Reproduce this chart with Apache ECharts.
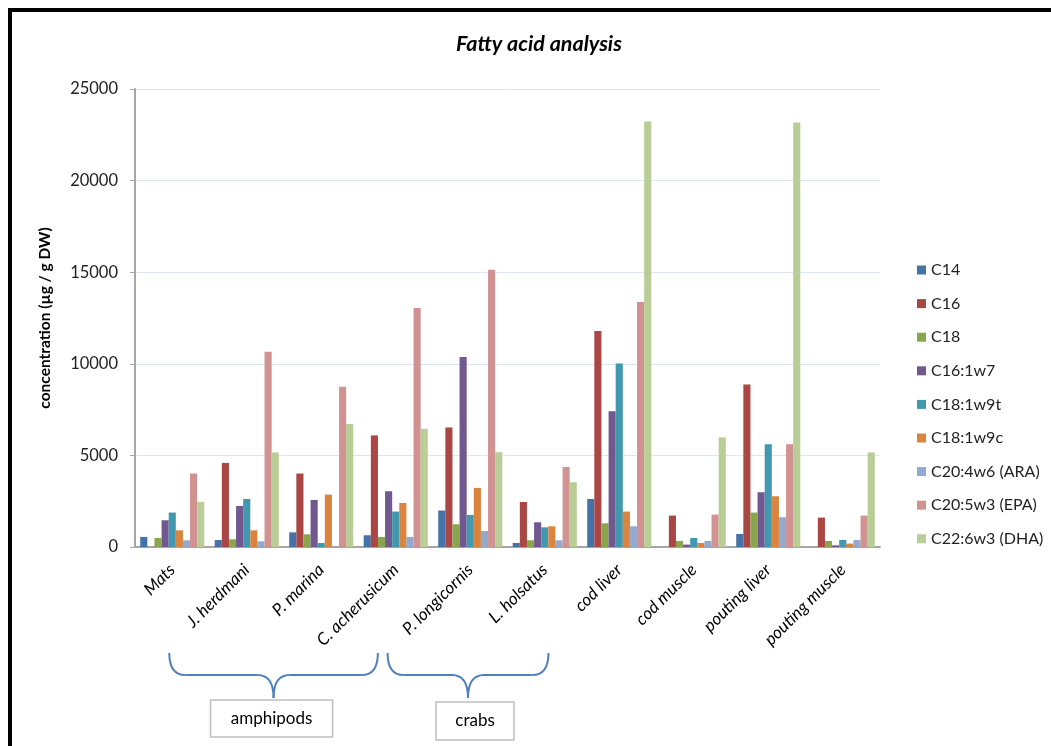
<!DOCTYPE html>
<html>
<head>
<meta charset="utf-8">
<script src="https://cdn.jsdelivr.net/npm/echarts@6/dist/echarts.min.js"></script>
<style>html,body{margin:0;padding:0;background:#fff}#c{width:1051px;height:746px}</style>
</head>
<body>
<div id="c"></div>
<script>
var categories = ['Mats', 'J. herdmani', 'P. marina', 'C. acherusicum', 'P. longicornis', 'L. holsatus', 'cod liver', 'cod muscle', 'pouting liver', 'pouting muscle'];
var seriesNames = ['C14', 'C16', 'C18', 'C16:1w7', 'C18:1w9t', 'C18:1w9c', 'C20:4w6 (ARA)', 'C20:5w3 (EPA)', 'C22:6w3 (DHA)'];
var C14      = [550, 380, 800, 640, 1990, 220, 2620, 0, 710, 0];
var C16      = [0, 4590, 4010, 6090, 6525, 2460, 11790, 1715, 8875, 1605];
var C18      = [490, 420, 690, 550, 1240, 365, 1295, 330, 1880, 330];
var C16_1w7  = [1460, 2240, 2570, 3045, 10370, 1350, 7415, 130, 2990, 90];
var C18_1w9t = [1880, 2620, 220, 1935, 1750, 1075, 10020, 490, 5610, 380];
var C18_1w9c = [910, 910, 2860, 2405, 3225, 1130, 1935, 220, 2770, 185];
var ARA      = [365, 310, 0, 550, 875, 365, 1130, 330, 1625, 380];
var EPA      = [4010, 10660, 8745, 13050, 15140, 4370, 13375, 1770, 5610, 1715];
var DHA      = [2460, 5160, 6720, 6450, 5175, 3535, 23230, 5980, 23175, 5160];
var yTicks = [0, 5000, 10000, 15000, 20000, 25000];
var groups = [
  {name: 'amphipods', from: 0, to: 3},
  {name: 'crabs', from: 4, to: 5}
];

var colors = ['#4572A7', '#AA4643', '#89A54E', '#71588F', '#4198AF', '#DB843D', '#93A9CF', '#D19392', '#B9CD96'];
var values = [C14, C16, C18, C16_1w7, C18_1w9t, C18_1w9c, ARA, EPA, DHA];
var FONT = 'Lato';

var chart = echarts.init(document.getElementById('c'), null, {renderer: 'canvas'});
var series = seriesNames.map(function (n, i) {
  return {
    name: n, type: 'bar', data: values[i],
    barGap: '0%', barCategoryGap: '14%',
    itemStyle: {color: colors[i]},
    emphasis: {disabled: true}
  };
});

chart.setOption({
  animation: false,
  color: colors,
  title: {
    text: 'Fatty acid analysis', left: 451, top: 28,
    textStyle: {fontFamily: FONT, fontSize: 21.5, fontWeight: 'bold', fontStyle: 'italic', color: '#000'}
  },
  legend: {
    orient: 'vertical', left: 912, top: 257,
    itemWidth: 9, itemHeight: 9, itemGap: 17.6, icon: 'rect',
    textStyle: {fontFamily: FONT, fontSize: 16, color: '#222', lineHeight: 16}
  },
  grid: {left: 135, right: 171, top: 89, bottom: 199, containLabel: false},
  xAxis: {
    type: 'category', data: categories,
    axisLine: {lineStyle: {color: '#a6a6a6', width: 2}},
    axisTick: {show: false},
    axisLabel: {rotate: 45, interval: 0, margin: 20, fontFamily: FONT, fontSize: 17, fontStyle: 'italic', color: '#000'}
  },
  yAxis: {
    type: 'value', min: 0, max: 25000, interval: 5000,
    name: 'concentration (µg / g DW)', nameLocation: 'middle', nameGap: 82,
    nameTextStyle: {fontFamily: FONT, fontSize: 15.5, fontWeight: 'bold', color: '#000'},
    axisLine: {show: true, lineStyle: {color: '#a6a6a6', width: 2}},
    axisTick: {show: true, length: 5, lineStyle: {color: '#a6a6a6'}},
    axisLabel: {fontFamily: FONT, fontSize: 16.5, color: '#222', margin: 17,
      formatter: function (v) { return yTicks.indexOf(v) >= 0 ? String(v) : ''; }},
    splitLine: {lineStyle: {color: '#dce6f2', width: 1}}
  },
  series: series
});

function px(i) { return chart.convertToPixel({xAxisIndex: 0}, categories[i]); }
var w = px(1) - px(0);
var yAxis0 = chart.convertToPixel({yAxisIndex: 0}, 0);
var g = [
  {type: 'rect', shape: {x: 10, y: 10, width: 1200, height: 900}, style: {fill: 'none', stroke: '#000', lineWidth: 4}, z: 100}
];
var spec = [
  {l: px(0) - 0.04 * w, r: px(3) - 0.24 * w, boxW: 122, boxH: 37, boxDx: -2},
  {l: px(3) - 0.11 * w, r: px(5) + 0.05 * w, boxW: 78, boxH: 38, boxDx: 7}
];
var braceStyle = {fill: 'none', stroke: '#4F81BD', lineWidth: 2};
function curve(x1, y1, cx, cy, x2, y2) {
  return {type: 'bezierCurve', shape: {x1: x1, y1: y1, cpx1: cx, cpy1: cy, x2: x2, y2: y2}, style: braceStyle};
}
function line(x1, y1, x2, y2) {
  return {type: 'line', shape: {x1: x1, y1: y1, x2: x2, y2: y2}, style: braceStyle};
}
groups.forEach(function (gr, k) {
  var s = spec[k];
  var x1 = s.l, x2 = s.r, cx = (x1 + x2) / 2;
  var yt = yAxis0 + 106, ym = yt + 22, ytip = ym + 23, r = 16;
  g.push(curve(x1, yt, x1, ym, x1 + r, ym));
  g.push(line(x1 + r, ym, cx - r, ym));
  g.push(curve(cx - r, ym, cx, ym, cx, ytip));
  g.push(curve(cx, ytip, cx, ym, cx + r, ym));
  g.push(line(cx + r, ym, x2 - r, ym));
  g.push(curve(x2 - r, ym, x2, ym, x2, yt));
  var by = ytip + 2 + k * 2;
  var bx = cx + s.boxDx;
  g.push({type: 'rect', shape: {x: bx - s.boxW / 2, y: by, width: s.boxW, height: s.boxH},
    style: {fill: '#fff', stroke: '#bfbfbf', lineWidth: 1.5}});
  g.push({type: 'text', x: bx, y: by + s.boxH / 2,
    style: {text: gr.name, fontFamily: FONT, fontSize: 17, fill: '#000', align: 'center', verticalAlign: 'middle'}});
});
chart.setOption({graphic: g});
</script>
</body>
</html>
